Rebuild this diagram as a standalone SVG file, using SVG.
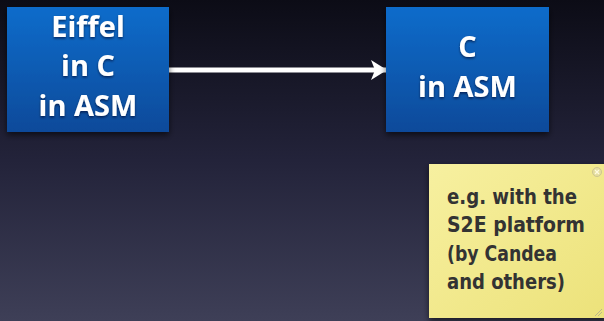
<svg xmlns="http://www.w3.org/2000/svg" width="604" height="321" viewBox="0 0 604 321">
<defs>
<linearGradient id="bg" x1="0" y1="0" x2="0" y2="1">
<stop offset="0" stop-color="#0c0c16"/>
<stop offset="0.5" stop-color="#23233a"/>
<stop offset="1" stop-color="#3e3f57"/>
</linearGradient>
<linearGradient id="box" x1="0" y1="0" x2="0" y2="1">
<stop offset="0" stop-color="#0a6ccb"/>
<stop offset="1" stop-color="#0b4a9a"/>
</linearGradient>
<linearGradient id="note" x1="0" y1="0" x2="1" y2="1">
<stop offset="0" stop-color="#f7f0a0"/>
<stop offset="1" stop-color="#ece27a"/>
</linearGradient>
<filter id="sh" x="-10%" y="-10%" width="120%" height="130%">
<feDropShadow dx="0" dy="3" stdDeviation="3" flood-color="#000" flood-opacity="0.6"/>
</filter>
<filter id="ts" x="-10%" y="-10%" width="120%" height="130%">
<feDropShadow dx="0" dy="1.5" stdDeviation="1" flood-color="#002" flood-opacity="0.6"/>
</filter>
<marker id="ah" viewBox="0 0 16 20" refX="15" refY="10" markerWidth="16" markerHeight="20" markerUnits="userSpaceOnUse" orient="auto">
<path d="M0,0 L16,10 L0,20 L4,10 Z" fill="#ffffff"/>
</marker>
</defs>
<style>
.bx{fill:url(#box);filter:url(#sh);}
.t{font-family:"Open Sans","Lato",sans-serif;font-weight:700;font-size:29px;fill:#fff;text-anchor:middle;filter:url(#ts);}
.n{font-family:"DejaVu Sans Condensed","DejaVu Sans",sans-serif;font-weight:700;font-size:22px;fill:#333333;}
</style>
<rect width="604" height="321" fill="url(#bg)"/>
<g id="connectors">
<line x1="169" y1="70" x2="386" y2="70" stroke="#ffffff" stroke-width="5" marker-end="url(#ah)"/>
</g>
<g id="node-eiffel">
<rect class="bx" x="7" y="7" width="162" height="125"/>
<text class="t" x="88" y="37">Eiffel</text>
<text class="t" x="88" y="76">in C</text>
<text class="t" x="88" y="116">in ASM</text>
</g>
<g id="node-c">
<rect class="bx" x="386" y="7" width="163" height="125"/>
<text class="t" x="467.5" y="57">C</text>
<text class="t" x="467.5" y="97">in ASM</text>
</g>
<g id="note">
<rect x="429" y="164" width="178" height="154" fill="url(#note)" filter="url(#sh)"/>
<circle cx="597" cy="172" r="4.5" fill="#e6dfa0" stroke="#cfc690" stroke-width="1"/>
<path d="M595,170 L599,174 M599,170 L595,174" stroke="#fffbe0" stroke-width="1.2"/>
<path d="M595,316 L602,309 M598,316 L602,312" stroke="#bdb68a" stroke-width="1"/>
<text class="n" x="447" y="204" textLength="130" lengthAdjust="spacingAndGlyphs">e.g. with the</text>
<text class="n" x="447" y="232" textLength="138" lengthAdjust="spacingAndGlyphs">S2E platform</text>
<text class="n" x="447" y="261" textLength="110" lengthAdjust="spacingAndGlyphs">(by Candea</text>
<text class="n" x="447" y="289" textLength="118" lengthAdjust="spacingAndGlyphs">and others)</text>
</g>
</svg>
